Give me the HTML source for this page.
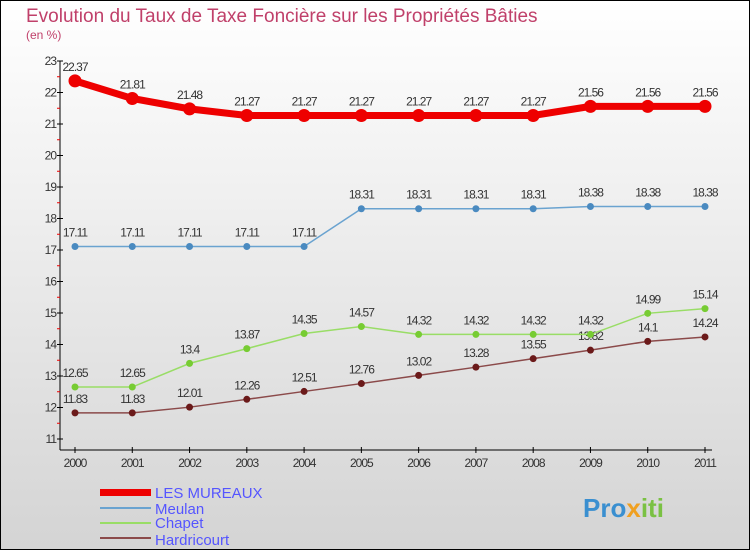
<!DOCTYPE html>
<html><head><meta charset="utf-8"><style>
body{margin:0}
#c{width:750px;height:550px;position:relative;font-family:"Liberation Sans",sans-serif}
</style></head><body>
<div id="c">
<svg id="s" width="750" height="550" xmlns="http://www.w3.org/2000/svg">
<defs><linearGradient id="bg" x1="0" y1="0" x2="0" y2="1"><stop offset="0" stop-color="#ffffff"/><stop offset="1" stop-color="#d4d4d4"/></linearGradient></defs>
<rect x="0.5" y="0.5" width="749" height="549" fill="url(#bg)" stroke="#000"/>
<text x="26" y="22" font-size="19" fill="#c0406a">Evolution du Taux de Taxe Foncière sur les Propriétés Bâties</text>
<text x="26" y="39" font-size="12" fill="#c0406a">(en %)</text>
<g id="axes"></g><g id="series"></g>
<g>
<rect x="100" y="489" width="51" height="7" fill="#ee0000"/>
<text x="155" y="498" font-size="15" fill="#5555ff">LES MUREAUX</text>
<rect x="100" y="507" width="51" height="2" fill="#6aa3d0"/>
<text x="155" y="514" font-size="15" fill="#5555ff">Meulan</text>
<rect x="100" y="522" width="51" height="2" fill="#99dd66"/>
<text x="155" y="528" font-size="15" fill="#5555ff">Chapet</text>
<rect x="100" y="537" width="51" height="2" fill="#8b4a4a"/>
<text x="155" y="545" font-size="15" fill="#5555ff">Hardricourt</text>
</g>
<text x="583" y="517" font-size="26" font-weight="bold" fill="#3a8fd0">Pro<tspan fill="#f0a020">x</tspan><tspan fill="#7ac143">iti</tspan></text>
</svg></div>
<script>
const years=[2000,2001,2002,2003,2004,2005,2006,2007,2008,2009,2010,2011];
const mureaux=[22.37,21.81,21.48,21.27,21.27,21.27,21.27,21.27,21.27,21.56,21.56,21.56];
const meulan=[17.11,17.11,17.11,17.11,17.11,18.31,18.31,18.31,18.31,18.38,18.38,18.38];
const chapet=[12.65,12.65,13.4,13.87,14.35,14.57,14.32,14.32,14.32,14.32,14.99,15.14];
const hardricourt=[11.83,11.83,12.01,12.26,12.51,12.76,13.02,13.28,13.55,13.82,14.1,14.24];
const yTicks=[11,12,13,14,15,16,17,18,19,20,21,22,23];
const NS="http://www.w3.org/2000/svg";
function X(i){return 75+i*(630/(years.length-1));}
function Y(v){return 439-(v-11)*31.5;}
function mk(t,a,p){const e=document.createElementNS(NS,t);for(const k in a)e.setAttribute(k,a[k]);p.appendChild(e);return e;}
const ax=document.getElementById('axes');
const yl=mk('line',{x1:60,y1:Y(23),x2:60,y2:450,stroke:'#000'},ax);


const xl=mk('line',{x1:60,y1:450,x2:712,y2:450,stroke:'#000'},ax);


yTicks.forEach(v=>{
 mk('line',{x1:57,y1:Y(v),x2:63,y2:Y(v),stroke:'#000'},ax);
 if(v<23)mk('line',{x1:57,y1:Y(v+0.5),x2:60,y2:Y(v+0.5),stroke:'#e00'},ax);
 const t=mk('text',{x:56,y:Y(v)+4,'font-size':12,'text-anchor':'end',fill:'#333','letter-spacing':'-1'},ax);
 t.textContent=v;
 
 
});
years.forEach((y,i)=>{
 mk('line',{x1:X(i),y1:447,x2:X(i),y2:453,stroke:'#000'},ax);
 const t=mk('text',{x:X(i),y:467,'font-size':12,'text-anchor':'middle',fill:'#333','letter-spacing':'-1'},ax);
 t.textContent=y;
 
 
});
const sg=document.getElementById('series');
function series(name,vals,color,w,r,dot){
 const g=mk('g',{},sg);
 
 
 mk('polyline',{points:vals.map((v,i)=>X(i)+','+Y(v)).join(' '),fill:'none',stroke:color,'stroke-width':w},g);
 vals.forEach((v,i)=>{
  const c=mk('circle',{cx:X(i),cy:Y(v),r:r,fill:dot},g);
  
  
  const t=mk('text',{x:X(i),y:Y(v)-10,'font-size':12,'text-anchor':'middle',fill:'#333','letter-spacing':'-1'},g);
  t.textContent=v;
  
  
 });
}
series('hardricourt',hardricourt,'#8b4a4a',1.5,3.5,'#6b1a1a');
series('chapet',chapet,'#99dd66',1.5,3.5,'#77cc33');
series('meulan',meulan,'#6aa3d0',1.5,3.5,'#4a8ac0');
series('les-mureaux',mureaux,'#ee0000',7,6.5,'#ee0000');
</script>
</body></html>
